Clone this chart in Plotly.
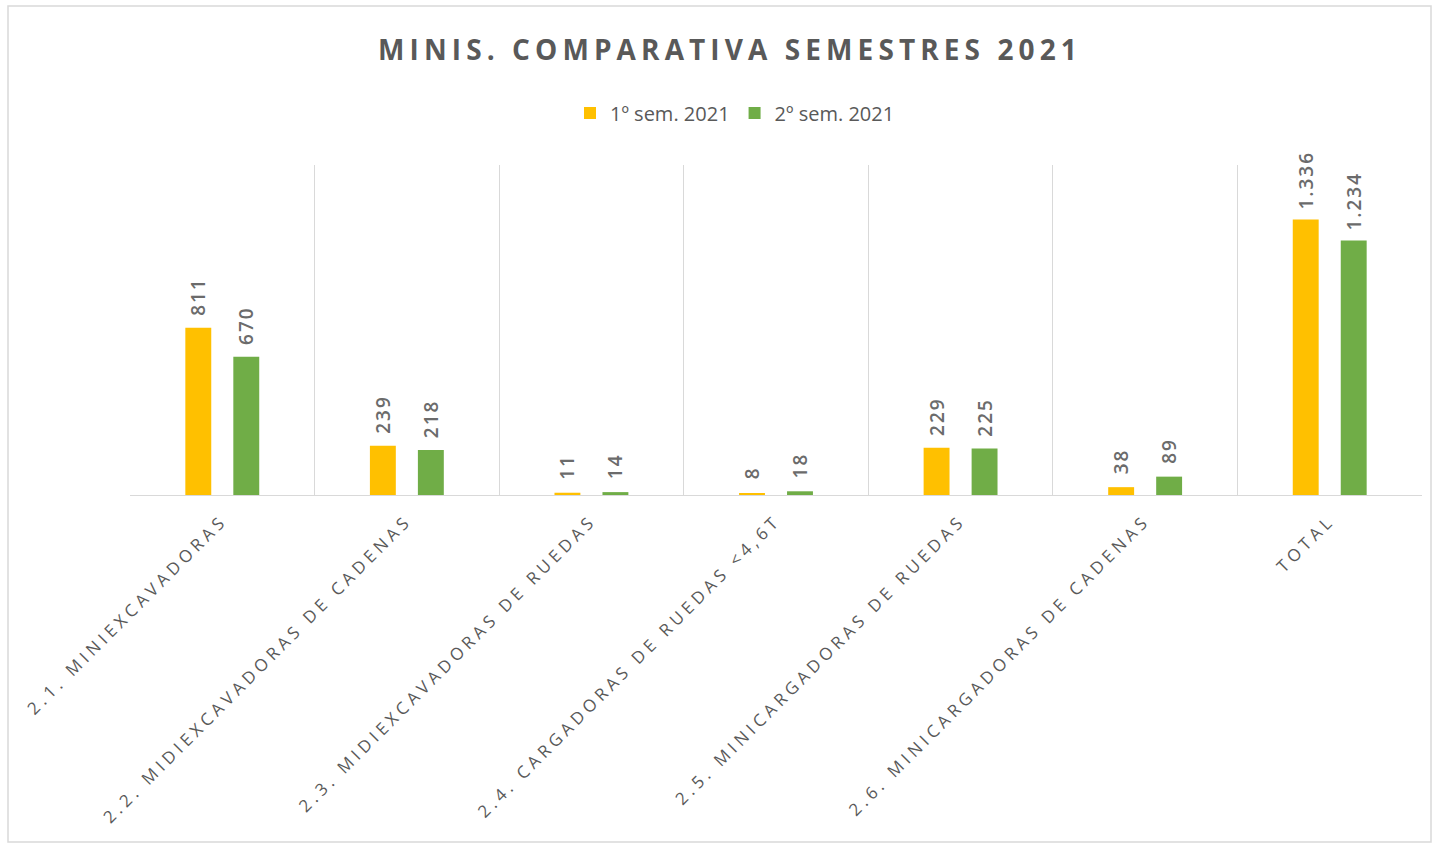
import plotly.graph_objects as go

categories = [
    "2.1. MINIEXCAVADORAS",
    "2.2. MIDIEXCAVADORAS DE CADENAS",
    "2.3. MIDIEXCAVADORAS DE RUEDAS",
    "2.4. CARGADORAS DE RUEDAS <4,6T",
    "2.5. MINICARGADORAS DE RUEDAS",
    "2.6. MINICARGADORAS DE CADENAS",
    "TOTAL",
]
sem1_values = [811, 239, 11, 8, 229, 38, 1336]
sem2_values = [670, 218, 14, 18, 225, 89, 1234]
series_names = ["1º sem. 2021", "2º sem. 2021"]
title_text = "MINIS. COMPARATIVA SEMESTRES 2021"

GRAY = "#595959"
FONT = "Open Sans"

fig = go.Figure()
for name, vals, color in [
    (series_names[0], sem1_values, "#FFC000"),
    (series_names[1], sem2_values, "#70AD47"),
]:
    fig.add_trace(go.Bar(
        x=categories, y=vals, name=name,
        marker=dict(color=color, line=dict(width=0)),
        texttemplate="\u00a0\u00a0%{y:,}", textposition="outside", textangle=-90,
        textfont=dict(family=FONT, size=19, color="#6b6b6b", weight=600),
        constraintext="none", cliponaxis=False,
    ))

fig.update_layout(
    width=1433, height=843,
    paper_bgcolor="white", plot_bgcolor="white",
    separators=",.",
    barmode="group", bargap=0.48, bargroupgap=0.46,
    margin=dict(l=130, r=11, t=165, b=348),
    title=dict(text=title_text, x=730/1433, xanchor="center",
               y=1 - 50/843, yanchor="middle",
               font=dict(family=FONT, size=28, color=GRAY, weight=700)),
    legend=dict(orientation="h", x=(735-130)/1292, xanchor="center",
                y=(495-113)/330, yanchor="middle",
                font=dict(family=FONT, size=20, color=GRAY),
                itemwidth=30, traceorder="normal"),
    font=dict(family=FONT, color=GRAY),
    showlegend=True,
)
fig.update_xaxes(
    type="category", tickson="boundaries", showgrid=True,
    gridcolor="#D9D9D9", gridwidth=1,
    showline=True, linecolor="#D9D9D9", linewidth=1,
    ticks="", tickangle=-45, ticklabelstandoff=8,
    tickfont=dict(family=FONT, size=17, color=GRAY),
)
fig.update_yaxes(range=[0, 1600], showgrid=False, showticklabels=False,
                 zeroline=False, showline=False)

# outer chart border
fig.add_shape(type="rect", xref="paper", yref="paper",
              x0=(8-130)/1292, x1=(1431-130)/1292,
              y0=(495-842)/330, y1=(495-6)/330,
              line=dict(color="#D9D9D9", width=1.5), layer="below")

post = """
document.body.style.margin = '0';
var gd = document.getElementById('{plot_id}');
function applySpacing() {
  gd.querySelectorAll('.gtitle').forEach(function(t){ t.style.letterSpacing = '5.1px'; });
  gd.querySelectorAll('.xtick text').forEach(function(t){ t.style.letterSpacing = '4.3px'; });
  gd.querySelectorAll('.bartext').forEach(function(t){ t.style.letterSpacing = '2px'; });
}
applySpacing();
if (gd.on) { gd.on('plotly_afterplot', applySpacing); }
setTimeout(applySpacing, 50);
"""
fig.write_html("out.html", post_script=post, config={"displayModeBar": False})
